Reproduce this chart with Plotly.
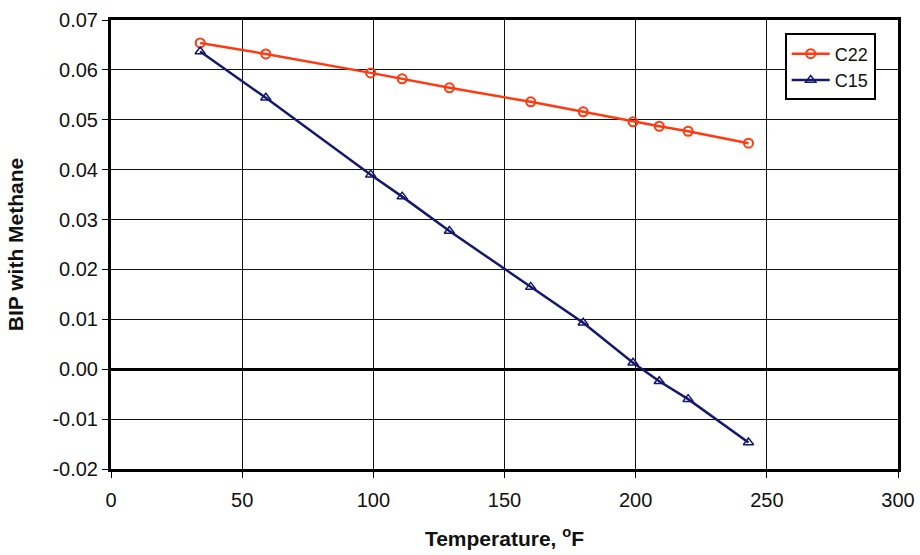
import plotly.graph_objects as go

temperature = [34, 59, 99, 111, 129, 160, 180, 199, 209, 220, 243]
c22 = [0.0654, 0.0632, 0.0594, 0.0582, 0.0564, 0.0536, 0.0516, 0.0496, 0.0487, 0.0477, 0.0453]
c15 = [0.0637, 0.0544, 0.0390, 0.0346, 0.0277, 0.0165, 0.0093, 0.0013, -0.0024, -0.0060, -0.0147]

y_ticks = [0.07, 0.06, 0.05, 0.04, 0.03, 0.02, 0.01, 0.00, -0.01, -0.02]
y_labels = ["0.07", "0.06", "0.05", "0.04", "0.03", "0.02", "0.01", "0.00", "-0.01", "-0.02"]
x_ticks = [0, 50, 100, 150, 200, 250, 300]

fig = go.Figure()
fig.add_trace(go.Scatter(
    x=temperature, y=c22, name="C22", mode="lines+markers",
    line=dict(color="#FF3A10", width=2.5),
    marker=dict(symbol="circle-open", size=9, color="#FF3A10", line=dict(width=2)),
))
fig.add_trace(go.Scatter(
    x=temperature, y=c15, name="C15", mode="lines+markers",
    line=dict(color="#14186E", width=2.5),
    marker=dict(symbol="triangle-up-open", size=9, color="#14186E", line=dict(width=1.5)),
))

fig.update_layout(
    width=920, height=555,
    margin=dict(l=111, r=22, t=20, b=86),
    paper_bgcolor="white", plot_bgcolor="white",
    font=dict(family="Liberation Sans, Arial, sans-serif", color="black"),
    legend=dict(
        x=0.856, y=0.97, xanchor="left", yanchor="top",
        bordercolor="black", borderwidth=2, bgcolor="white",
        font=dict(size=18, color="#111"), itemwidth=38,
    ),
    xaxis=dict(
        range=[0, 300], tickvals=x_ticks, showgrid=True, gridcolor="#111", gridwidth=1.2,
        showline=True, linecolor="black", linewidth=3, mirror=True,
        ticks="outside", ticklen=6, tickcolor="black", tickwidth=1,
        tickfont=dict(size=20, color="#111"), zeroline=False, ticklabelstandoff=5,
        automargin=False,
        title=dict(text="<b>Temperature, <sup>o</sup>F</b>", font=dict(size=21, color="#111"), standoff=22),
    ),
    yaxis=dict(
        range=[-0.02, 0.07], tickvals=y_ticks, ticktext=y_labels,
        showgrid=True, gridcolor="#111", gridwidth=1.2,
        showline=True, linecolor="black", linewidth=3, mirror=True,
        ticks="outside", ticklen=6, tickcolor="black", tickwidth=1,
        tickfont=dict(size=20, color="#111"), zeroline=True, zerolinecolor="black", zerolinewidth=2.5,
        automargin=False,
        title=dict(text="<b>BIP with Methane</b>", font=dict(size=21, color="#111"), standoff=24),
    ),
)

fig.write_html(
    "out.html",
    config={"displayModeBar": False},
    post_script="document.body.style.margin='0';document.body.style.overflow='hidden';",
)
